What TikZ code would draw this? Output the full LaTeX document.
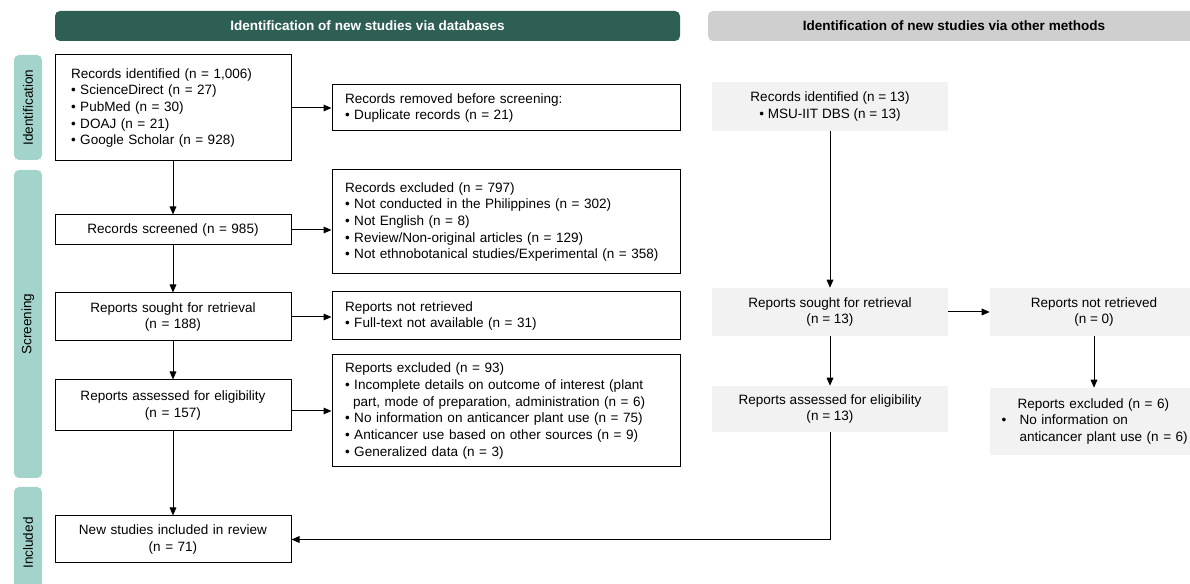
\documentclass[tikz,border=0pt]{standalone}
\usepackage{fontspec}
\setmainfont{Liberation Sans}
\usepackage{tikz}
\usetikzlibrary{calc}
\usetikzlibrary{arrows.meta}
\usetikzlibrary{positioning}
\definecolor{pinegreen}{RGB}{46, 95, 85}
\definecolor{seafoam}{RGB}{163, 212, 204}
\definecolor{silver}{RGB}{207, 207, 207}
\definecolor{cloud}{RGB}{242, 242, 242}

\tikzset{
  every node/.style={font=\fontsize{10.15}{12.5}\selectfont},
  dbbox/.style={draw=black, line width=0.75pt, fill=white, inner ysep=0pt},
  colL/.style={text width=153pt, inner xsep=12pt},
  colM/.style={text width=241.5pt, inner xsep=9.75pt},
  othbox/.style={fill=cloud, minimum width=177pt, inner ysep=0pt, align=center},
  header/.style={rounded corners=3.75pt, minimum height=22.5pt, inner sep=0pt, font=\fontsize{10.15}{12.5}\selectfont\bfseries},
  phase/.style={fill=seafoam, rounded corners=3.75pt, minimum height=21pt, inner sep=0pt, rotate=90},
  flow/.style={line width=0.75pt, -{Triangle[length=6pt,width=5pt]}},
}

\begin{document}
\begin{tikzpicture}[x=0.75pt, y=-0.75pt]
            \useasboundingbox                                            (0,0) rectangle (1190,584);
            % headers
            \node[header, fill=pinegreen, text=white, minimum width=468.75pt] (dbhead)  at (367.5,26) {Identification of new studies via databases};
            \node[header, fill=silver,                minimum width=369pt]    (othhead) at (954,26)   {Identification of new studies via other methods};
            % phases
            \node[phase, minimum width=78.75pt] (ident)  at (28,107.5) {Identification};
            \node[phase, minimum width=231pt]   (screen) at (28,324)   {Screening};
            \node[phase, minimum width=84pt]    (incl)   at (28,543)   {Included};
            % databases
            \node[dbbox, colL, align=left,   minimum height=79.5pt]  (recid)    at (173,108)   {Records identified (n = 1,006)\\
                                                                                                • ScienceDirect (n = 27)\\
                                                                                                • PubMed (n = 30)\\
                                                                                                • DOAJ (n = 21)\\
                                                                                                • Google Scholar (n = 928)};
            \node[dbbox, colL, align=center, minimum height=22.5pt]  (screened) at (173,230)   {Records screened (n = 985)};
            \node[dbbox, colL, align=center, minimum height=36pt]    (sought)   at (173,317)   {Reports sought for retrieval\\(n = 188)};
            \node[dbbox, colL, align=center, minimum height=38.25pt] (assessed) at (173,405.5) {Reports assessed for eligibility\\(n = 157)};
            \node[dbbox, colL, align=center, minimum height=35.25pt] (newst)    at (173,539.5) {New studies included in review\\(n = 71)};
            \node[dbbox, colM, align=left,   minimum height=34.5pt]  (removed)  at (506,108)   {Records removed before screening:\\
                                                                                                • Duplicate records (n = 21)};
            \node[dbbox, colM, align=left,   minimum height=78pt]    (rexcl)    at (506,222)   {Records excluded (n = 797)\\
                                                                                                • Not conducted in the Philippines (n = 302)\\
                                                                                                • Not English (n = 8)\\
                                                                                                • Review/Non-original articles (n = 129)\\
                                                                                                • Not ethnobotanical studies/Experimental (n = 358)};
            \node[dbbox, colM, align=left,   minimum height=36pt]    (notret)   at (506,316)   {Reports not retrieved\\
                                                                                                • Full-text not available (n = 31)};
            \node[dbbox, colM, align=left,   minimum height=84pt]    (repexcl)  at (506,411)   {Reports excluded (n = 93)\\
                                                                                                • Incomplete details on outcome of interest (plant\\
                                                                                                \hspace*{6pt}part, mode of preparation, administration (n = 6)\\
                                                                                                • No information on anticancer plant use (n = 75)\\
                                                                                                • Anticancer use based on other sources (n = 9)\\
                                                                                                • Generalized data (n = 3)};
            % other methods
            \node[othbox, minimum height=36.75pt] (oid)       at (830,106.5) {Records identified (n = 13)\\• MSU-IIT DBS (n = 13)};
            \node[othbox, minimum height=36pt]    (osought)   at (830,312)   {Reports sought for retrieval\\(n = 13)};
            \node[othbox, minimum height=34.5pt]  (oassessed) at (830,409)   {Reports assessed for eligibility\\(n = 13)};
            \node[othbox, minimum width=156pt, minimum height=36pt] (onotret) at (1094,312) {Reports not retrieved\\(n = 0)};
            \node[othbox, align=left, anchor=west, minimum width=0pt, text width=150pt, inner xsep=8.5pt, minimum height=50.25pt] (oexcl) at (990,421.5)
                 {\hspace*{12pt}Reports excluded (n = 6)\\
                  \makebox[13.5pt][l]{•}No information on\\
                  \hspace*{13.5pt}anticancer plant use (n = 6)};
            % arrows
            \draw[flow] (recid)          -- (screened);
            \draw[flow] (screened)       -- (sought);
            \draw[flow] (sought)         -- (assessed);
            \draw[flow] (assessed)       -- (newst);
            \draw[flow] (recid)          -- (removed);
            \draw[flow] (screened.east)  -- (screened.east -| rexcl.west);
            \draw[flow] (sought.east)    -- (sought.east -| notret.west);
            \draw[flow] (assessed.east |- repexcl.west) -- (repexcl.west);
            \draw[flow] (oid)            -- (osought);
            \draw[flow] (osought)        -- (oassessed);
            \draw[flow] (osought)        -- (onotret);
            \draw[flow] (onotret)        -- (onotret |- oexcl.north);
            \draw[flow] (oassessed.south) |- (newst.east);
\end{tikzpicture}
\end{document}
